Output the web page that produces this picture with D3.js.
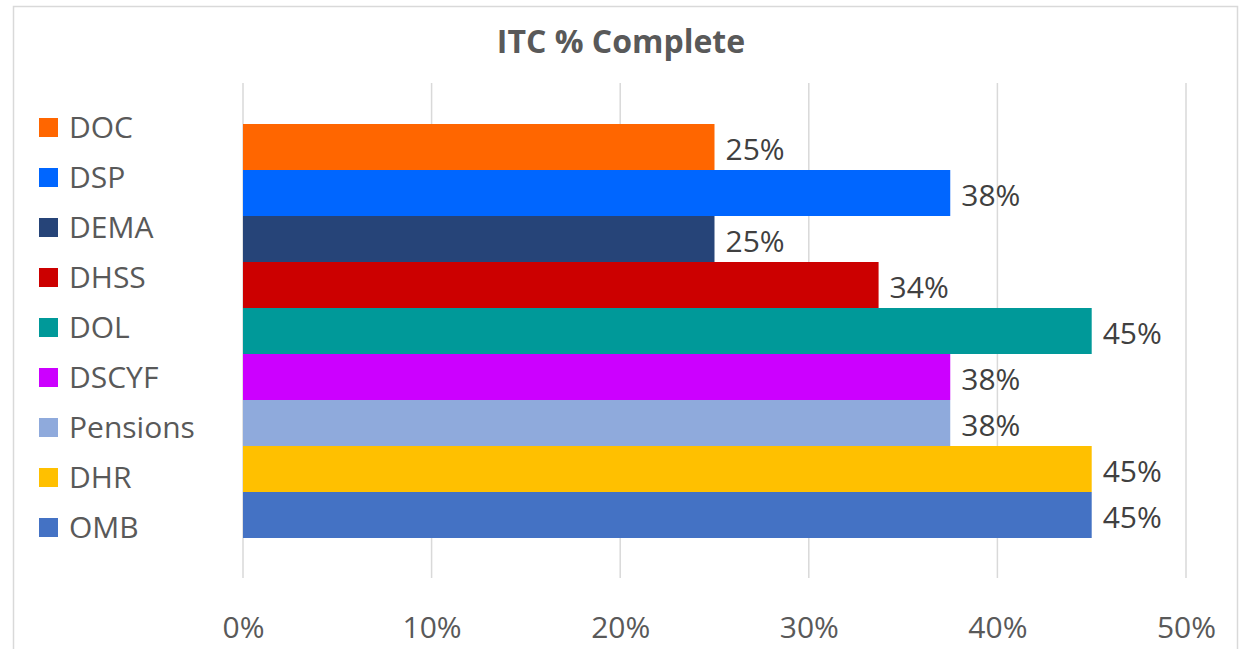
<!DOCTYPE html>
<html>
<head>
<meta charset="utf-8">
<script src="https://cdn.jsdelivr.net/npm/d3@7"></script>
<style>
  body { margin: 0; background: #fff; }
  text { font-family: "Open Sans", "Noto Sans", sans-serif; }
</style>
</head>
<body>
<div class="chart"></div>
<script>
// data
var names = ["DOC", "DSP", "DEMA", "DHSS", "DOL", "DSCYF", "Pensions", "DHR", "OMB"];
var values = [0.25, 0.375, 0.25, 0.337, 0.45, 0.375, 0.375, 0.45, 0.45];
var colors = ["#FF6600", "#0066FF", "#264478", "#CC0000", "#009999", "#CC00FF", "#8FAADC", "#FFC000", "#4472C4"];
var ticks = [0, 0.1, 0.2, 0.3, 0.4, 0.5];

var svgWidth = 1241;
var svgHeight = 649;
var fontSize = 30;

var svg = d3.select(".chart")
  .append("svg")
  .attr("width", svgWidth)
  .attr("height", svgHeight);

// outer border
svg.append("rect")
  .attr("x", 13.5).attr("y", 6.5)
  .attr("width", 1224).attr("height", 660)
  .attr("fill", "#fff")
  .attr("stroke", "#d9d9d9")
  .attr("stroke-width", 1.5);

svg.append("text")
  .attr("x", 621).attr("y", 53)
  .attr("text-anchor", "middle")
  .attr("font-size", 32)
  .attr("font-weight", "bold")
  .attr("fill", "#595959")
  .text("ITC % Complete");

var plotTop = 83, plotBottom = 578;

var x = d3.scaleLinear().domain([0, 0.5]).range([243, 1186]);
var y = d3.scaleBand().domain(names).range([124, 538]);

// gridlines
svg.append("g").selectAll("line")
  .data(ticks)
  .enter().append("line")
  .attr("x1", d => x(d)).attr("x2", d => x(d))
  .attr("y1", plotTop).attr("y2", plotBottom)
  .attr("stroke", "#d9d9d9")
  .attr("stroke-width", 1.5);

// x axis labels
var xAxis = svg.append("g")
  .attr("transform", `translate(0, ${plotBottom + 36})`)
  .call(d3.axisBottom(x).tickValues(ticks).tickFormat(d3.format(".0%")).tickSize(0));
xAxis.select(".domain").remove();
xAxis.selectAll("text")
  .attr("font-size", fontSize)
  .attr("fill", "#595959")
  .style("font-family", "'Open Sans', sans-serif");

// bars
var bars = svg.append("g").selectAll("g")
  .data(names)
  .enter().append("g");

bars.append("rect")
  .attr("x", x(0))
  .attr("y", d => y(d))
  .attr("width", (d, i) => x(values[i]) - x(0))
  .attr("height", y.bandwidth())
  .attr("fill", (d, i) => colors[i]);

bars.append("text")
  .attr("x", (d, i) => x(values[i]) + 11)
  .attr("y", d => y(d) + y.bandwidth() / 2 + 13)
  .attr("font-size", fontSize)
  .attr("fill", "#404040")
  .text((d, i) => Math.round(values[i] * 100) + "%");

// legend
var legend = svg.append("g").selectAll("g")
  .data(names)
  .enter().append("g")
  .attr("transform", (d, i) => `translate(39, ${127 + i * 50})`);

legend.append("rect")
  .attr("x", 0).attr("y", -9)
  .attr("width", 19).attr("height", 19)
  .attr("fill", (d, i) => colors[i]);

legend.append("text")
  .attr("x", 30).attr("y", 11)
  .attr("font-size", fontSize)
  .attr("fill", "#595959")
  .text(d => d);
</script>
</body>
</html>
